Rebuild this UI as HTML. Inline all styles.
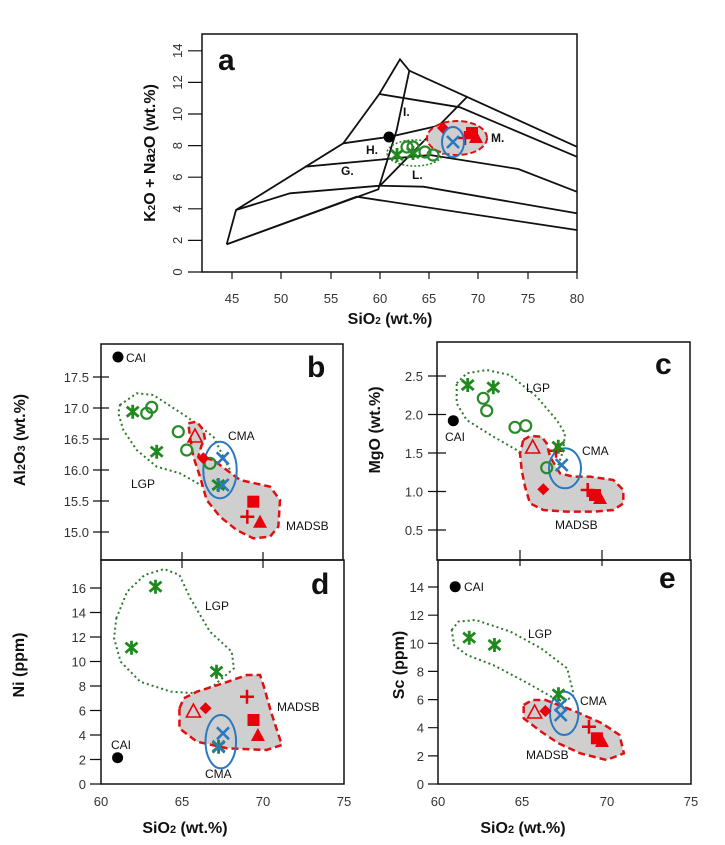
<!DOCTYPE html>
<html><head><meta charset="utf-8"><style>
body{margin:0;background:#fff}
svg{display:block}
text{font-family:"Liberation Sans",sans-serif}
.tl{font-size:13px;fill:#333}
.lab{font-size:12px;fill:#111}
.ax{font-size:16px;font-weight:bold;fill:#111}
.pl{font-size:30px;font-weight:bold;fill:#111}
.ns{vector-effect:non-scaling-stroke}
</style></head><body>
<svg width="725" height="845" viewBox="0 0 725 845" xmlns="http://www.w3.org/2000/svg">
<defs>
<path id="ast" d="M0,-7V7M-6,-5L6,5M-6,5L6,-5" stroke="#1e8a1e" stroke-width="2.8" fill="none"/>
<circle id="oc" r="5.5" fill="none" stroke="#2a8a2a" stroke-width="2.2"/>
<path id="bx" d="M-6,-6L6,6M-6,6L6,-6" stroke="#2a78c0" stroke-width="2.6" fill="none"/>
<polygon id="rd" points="0,-6 6,0 0,6 -6,0" fill="#e8000a"/>
<rect id="rs" x="-6" y="-6" width="12" height="12" fill="#e8000a"/>
<polygon id="rt" points="0,-7 7,6 -7,6" fill="#e8000a"/>
<polygon id="rto" points="0,-7 7,6 -7,6" fill="none" stroke="#e8000a" stroke-width="1.6"/>
<path id="rp" d="M-7,0H7M0,-7V7" stroke="#e8000a" stroke-width="2.5" fill="none"/>
</defs>

<!-- ===== Panel a ===== -->
<rect x="202" y="34" width="375" height="238" fill="none" stroke="#111" stroke-width="1.5"/>
<g stroke="#111" stroke-width="1.8" fill="none">
<polyline points="226.7,244.3 236,210 343.3,143.3 379.3,94 400,59.3 409.3,70.7 576.7,146.7"/>
<polyline points="226.7,244.3 378.3,189.3 396.7,130 409.3,70.7"/>
<polyline points="226.7,244.3 356.7,196.7 576.7,230"/>
<polyline points="236,210 290,193.3 380,185.7 423.3,186.7 576.7,213.3"/>
<polyline points="305,166.7 430,155 518.3,169 576.7,191.7"/>
<polyline points="343.3,143.3 390,136.7 441.7,125"/>
<polyline points="380,185.7 466.7,97.3"/>
<polyline points="379.3,94 460,107.3 576.7,156.7"/>
</g>
<g class="tl" text-anchor="middle">
<text x="232" y="303">45</text><text x="281" y="303">50</text><text x="331" y="303">55</text><text x="380" y="303">60</text><text x="429" y="303">65</text><text x="478" y="303">70</text><text x="528" y="303">75</text><text x="577" y="303">80</text>
</g>
<g stroke="#111" stroke-width="1.2">
<path d="M232,272v7M281,272v7M331,272v7M380,272v7M429,272v7M478,272v7M528,272v7M577,272v7"/>
<path d="M188,272h14M188,240.4h14M188,208.8h14M188,177.2h14M188,145.6h14M188,114h14M188,82.4h14M188,50.8h14"/>
</g>
<g class="tl" text-anchor="middle">
<text transform="translate(182,272) rotate(-90)">0</text>
<text transform="translate(182,240.4) rotate(-90)">2</text>
<text transform="translate(182,208.8) rotate(-90)">4</text>
<text transform="translate(182,177.2) rotate(-90)">6</text>
<text transform="translate(182,145.6) rotate(-90)">8</text>
<text transform="translate(182,114) rotate(-90)">10</text>
<text transform="translate(182,82.4) rotate(-90)">12</text>
<text transform="translate(182,50.8) rotate(-90)">14</text>
</g>
<text class="ax" x="390" y="324" text-anchor="middle" font-size="15">SiO<tspan font-size="10">2</tspan> (wt.%)</text>
<text class="ax" transform="translate(155,153) rotate(-90)" text-anchor="middle" font-size="15">K<tspan font-size="10">2</tspan>O + Na<tspan font-size="10">2</tspan>O (wt.%)</text>
<text class="pl" x="218" y="70" font-size="28">a</text>
<g class="lab" font-weight="bold" font-size="12">
<text x="403" y="116">I.</text><text x="366" y="154">H.</text><text x="341" y="175">G.</text><text x="412" y="179">L.</text><text x="491" y="142">M.</text>
</g>
<ellipse cx="415" cy="153" rx="28" ry="13" fill="none" stroke="#2d7a2d" stroke-width="1.5" stroke-dasharray="2,2"/>
<ellipse cx="457" cy="138" rx="30" ry="17" fill="#cfcfcf" stroke="#e01010" stroke-width="2" stroke-dasharray="6,3"/>
<circle cx="389" cy="137" r="5.5" fill="#000"/>
<g transform="translate(0,0)">
<use href="#ast" x="397" y="155"/><use href="#ast" x="413" y="153"/>
<use href="#oc" x="407" y="147"/><use href="#oc" x="413" y="147"/><use href="#oc" x="425" y="152"/><use href="#oc" x="433" y="155"/>
<use href="#rd" x="443" y="128"/><use href="#rs" x="472" y="133"/><use href="#rt" x="476" y="137"/><use href="#rp" x="465" y="138"/>
</g>
<ellipse cx="453" cy="142" rx="11" ry="15" fill="none" stroke="#2a78c0" stroke-width="2"/>
<use href="#bx" x="453" y="142"/>

<!-- ===== Panel b ===== -->
<rect x="101" y="344" width="242" height="216" fill="none" stroke="#111" stroke-width="1.5"/>
<g transform="translate(40,330) scale(0.33333)">
<path class="ns" d="M240,225 L290,190 340,195 440,260 520,320 570,420 575,470 540,485 500,475 420,430 350,410 290,360 250,300 235,250Z" fill="none" stroke="#2d7a2d" stroke-width="2" stroke-dasharray="2,3"/>
<path class="ns" d="M445,280 L470,275 490,300 495,330 485,345 475,380 520,390 560,420 600,450 690,470 720,510 715,590 690,620 640,625 590,600 540,560 500,510 480,440 460,380 450,320Z" fill="#cfcfcf" stroke="#e01010" stroke-width="2.5" stroke-dasharray="7,4"/>
</g>
<g stroke="#111" stroke-width="1.2">
<path d="M93,377h16M93,408h16M93,439h16M93,470h16M93,501h16M93,532h16M182,552v16M263,552v16"/>
</g>
<g class="tl" text-anchor="end">
<text x="89" y="382">17.5</text><text x="89" y="413">17.0</text><text x="89" y="444">16.5</text><text x="89" y="475">16.0</text><text x="89" y="506">15.5</text><text x="89" y="537">15.0</text>
</g>
<text class="ax" transform="translate(25,440) rotate(-90)" text-anchor="middle">Al<tspan font-size="11">2</tspan>O<tspan font-size="11">3</tspan> (wt.%)</text>
<text class="pl" x="307" y="377">b</text>
<circle cx="118" cy="357" r="5.5" fill="#000"/>
<text class="lab" x="126" y="362">CAI</text>
<text class="lab" x="228" y="440">CMA</text>
<text class="lab" x="131" y="488">LGP</text>
<text class="lab" x="286" y="530">MADSB</text>
<ellipse cx="220" cy="470" rx="16.7" ry="28.3" fill="none" stroke="#2a78c0" stroke-width="2"/>
<use href="#ast" x="132.7" y="411.7"/><use href="#ast" x="156.7" y="451.7"/><use href="#ast" x="218.3" y="485"/>
<use href="#oc" x="146.7" y="413.3"/><use href="#oc" x="151.7" y="407.3"/><use href="#oc" x="178.3" y="431.7"/><use href="#oc" x="186.7" y="450"/><use href="#oc" x="210" y="463.3"/>
<use href="#rto" x="195" y="436"/><use href="#rd" x="203.3" y="458.3"/>
<use href="#bx" x="222.7" y="458.3"/><use href="#bx" x="222.7" y="485"/>
<use href="#rs" x="253.3" y="501.7"/><use href="#rp" x="247.3" y="516.7"/><use href="#rt" x="260" y="521.7"/>

<!-- ===== Panel c ===== -->
<rect x="437" y="342" width="253" height="218" fill="none" stroke="#111" stroke-width="1.5"/>
<g transform="translate(360,330) scale(0.33333)">
<path class="ns" d="M290,160 L320,130 380,120 450,135 530,200 590,270 615,310 610,360 590,420 570,450 540,440 500,390 470,360 400,320 320,270 290,220Z" fill="none" stroke="#2d7a2d" stroke-width="2" stroke-dasharray="2,3"/>
<path class="ns" d="M490,330 L510,318 545,320 560,340 570,380 600,430 640,440 690,440 760,450 790,480 790,520 760,540 700,545 620,545 550,540 510,520 495,470 485,420 480,370Z" fill="#cfcfcf" stroke="#e01010" stroke-width="2.5" stroke-dasharray="7,4"/>
</g>
<g stroke="#111" stroke-width="1.2">
<path d="M428,376h18M428,414.5h18M428,453h18M428,491.5h18M428,530h18M520,550v16M602,550v16"/>
</g>
<g class="tl" text-anchor="end">
<text x="423" y="381">2.5</text><text x="423" y="419.5">2.0</text><text x="423" y="458">1.5</text><text x="423" y="496.5">1.0</text><text x="423" y="535">0.5</text>
</g>
<text class="ax" transform="translate(380,430) rotate(-90)" text-anchor="middle">MgO (wt.%)</text>
<text class="pl" x="655" y="374">c</text>
<circle cx="453.3" cy="420.7" r="5.5" fill="#000"/>
<text class="lab" x="445" y="441">CAI</text>
<text class="lab" x="526" y="392">LGP</text>
<text class="lab" x="582" y="455">CMA</text>
<text class="lab" x="555" y="529">MADSB</text>
<ellipse cx="565" cy="468.3" rx="16" ry="20" fill="none" stroke="#2a78c0" stroke-width="2"/>
<use href="#ast" x="467.7" y="385"/><use href="#ast" x="493.3" y="387.3"/>
<use href="#rp" x="556" y="450.7"/><use href="#ast" x="558.3" y="446.7"/>
<use href="#oc" x="483.3" y="398.3"/><use href="#oc" x="486.7" y="410.7"/><use href="#oc" x="515" y="427.3"/><use href="#oc" x="525.7" y="425.7"/><use href="#oc" x="546.7" y="467.7"/>
<use href="#rto" x="532.7" y="447"/><use href="#bx" x="561.7" y="465"/>
<use href="#rd" x="543.3" y="489.3"/><use href="#rp" x="587.7" y="490"/><use href="#rs" x="595" y="495"/><use href="#rt" x="600" y="498"/>

<!-- ===== Panel d ===== -->
<rect x="101" y="560" width="243" height="224" fill="none" stroke="#111" stroke-width="1.5"/>
<g transform="translate(40,555) scale(0.43573,0.33333)">
<path class="ns" d="M175,190 L200,110 240,60 285,42 320,60 345,130 390,230 440,290 445,340 400,390 360,415 300,410 230,380 185,320 170,250Z" fill="none" stroke="#2d7a2d" stroke-width="2" stroke-dasharray="2,3"/>
<path class="ns" d="M320,460 L330,430 360,410 420,385 475,360 505,360 515,400 530,470 555,570 520,585 430,580 360,560 320,520Z" fill="#cfcfcf" stroke="#e01010" stroke-width="2.5" stroke-dasharray="7,4"/>
</g>
<g stroke="#111" stroke-width="1.2">
<path d="M90,784h11M90,759.5h11M90,735h11M90,710.5h11M90,686h11M90,661.5h11M90,637h11M90,612.5h11M90,588h11"/>
</g>
<g class="tl" text-anchor="end">
<text x="86" y="789">0</text><text x="86" y="764.5">2</text><text x="86" y="740">4</text><text x="86" y="715.5">6</text><text x="86" y="691">8</text><text x="86" y="666.5">10</text><text x="86" y="642">12</text><text x="86" y="617.5">14</text><text x="86" y="593">16</text>
</g>
<g class="tl" text-anchor="middle">
<text x="101" y="806">60</text><text x="182" y="806">65</text><text x="263" y="806">70</text><text x="344" y="806">75</text>
</g>
<text class="ax" x="185" y="833" text-anchor="middle">SiO<tspan font-size="11">2</tspan> (wt.%)</text>
<text class="ax" transform="translate(24,665) rotate(-90)" text-anchor="middle">Ni (ppm)</text>
<text class="pl" x="311" y="594">d</text>
<circle cx="117.6" cy="757.7" r="5.5" fill="#000"/>
<text class="lab" x="111" y="749">CAI</text>
<text class="lab" x="205" y="610">LGP</text>
<text class="lab" x="277" y="711">MADSB</text>
<text class="lab" x="205" y="778">CMA</text>
<ellipse cx="220.8" cy="741.7" rx="15.3" ry="26.7" fill="none" stroke="#2a78c0" stroke-width="2"/>
<use href="#ast" x="155.5" y="586.7"/><use href="#ast" x="131.5" y="647.7"/><use href="#ast" x="216.5" y="671.7"/><use href="#ast" x="218.6" y="746.7"/>
<use href="#bx" x="223" y="733.3"/><use href="#bx" x="218.6" y="746.7"/>
<use href="#rto" x="193.4" y="711"/><use href="#rd" x="205.6" y="708.3"/><use href="#rp" x="247" y="696.7"/><use href="#rs" x="253.5" y="720"/><use href="#rt" x="257.9" y="735"/>

<!-- ===== Panel e ===== -->
<rect x="438" y="560" width="253" height="224" fill="none" stroke="#111" stroke-width="1.5"/>
<g transform="translate(40,555) scale(0.43573,0.33333)">
<path class="ns" d="M945,225 L960,200 1000,195 1080,230 1150,280 1210,340 1225,420 1205,440 1180,430 1120,385 1040,330 980,300 950,270Z" fill="none" stroke="#2d7a2d" stroke-width="2" stroke-dasharray="2,3"/>
<path class="ns" d="M1110,450 L1130,435 1160,435 1230,470 1290,505 1330,540 1340,595 1300,615 1240,595 1190,565 1150,530 1110,490Z" fill="#cfcfcf" stroke="#e01010" stroke-width="2.5" stroke-dasharray="7,4"/>
</g>
<g stroke="#111" stroke-width="1.2">
<path d="M428,784h10M428,755.9h10M428,727.7h10M428,699.6h10M428,671.4h10M428,643.3h10M428,615.2h10M428,587h10"/>
</g>
<g class="tl" text-anchor="end">
<text x="424" y="789">0</text><text x="424" y="760.9">2</text><text x="424" y="732.7">4</text><text x="424" y="704.6">6</text><text x="424" y="676.4">8</text><text x="424" y="648.3">10</text><text x="424" y="620.2">12</text><text x="424" y="592">14</text>
</g>
<g class="tl" text-anchor="middle">
<text x="438" y="806">60</text><text x="522" y="806">65</text><text x="607" y="806">70</text><text x="691" y="806">75</text>
</g>
<text class="ax" x="523" y="833" text-anchor="middle">SiO<tspan font-size="11">2</tspan> (wt.%)</text>
<text class="ax" transform="translate(404,665) rotate(-90)" text-anchor="middle">Sc (ppm)</text>
<text class="pl" x="659" y="588">e</text>
<circle cx="455.2" cy="586.7" r="5.5" fill="#000"/>
<text class="lab" x="464" y="591">CAI</text>
<text class="lab" x="528" y="638">LGP</text>
<text class="lab" x="580" y="705">CMA</text>
<text class="lab" x="526" y="759">MADSB</text>
<ellipse cx="564.2" cy="713.3" rx="14.2" ry="21.7" fill="none" stroke="#2a78c0" stroke-width="2"/>
<use href="#ast" x="469.2" y="637.7"/><use href="#ast" x="494.5" y="645"/><use href="#ast" x="558.5" y="694.3"/>
<use href="#bx" x="560.7" y="705"/><use href="#bx" x="560.7" y="715"/>
<use href="#rto" x="534.6" y="712"/><use href="#rd" x="545.4" y="711"/><use href="#rp" x="589" y="726.7"/><use href="#rs" x="596.9" y="738.3"/><use href="#rt" x="602" y="741"/>
</svg>
</body></html>
